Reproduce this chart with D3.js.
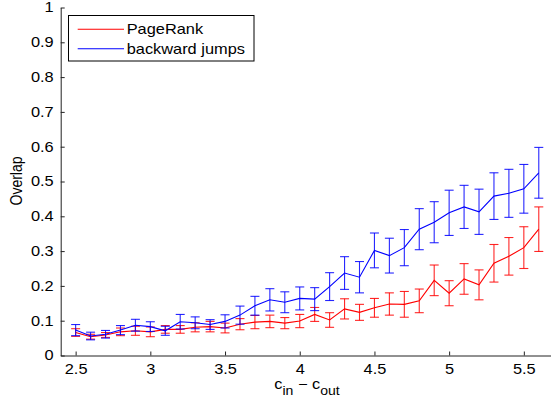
<!DOCTYPE html>
<html>
<head>
<meta charset="utf-8">
<script src="https://cdn.jsdelivr.net/npm/d3@7"></script>
<style>
  html, body { margin: 0; padding: 0; background: #fff; }
  svg { display: block; }
  text { font-family: "Liberation Sans", Arial, sans-serif; }
</style>
</head>
<body>
<script>
const xValues = [2.5,2.6,2.7,2.8,2.9,3.0,3.1,3.2,3.3,3.4,3.5,3.6,3.7,3.8,3.9,4.0,
                 4.1,4.2,4.3,4.4,4.5,4.6,4.7,4.8,4.9,5.0,5.1,5.2,5.3,5.4,5.5,5.6];
const pagerankMean = [0.066,0.054,0.059,0.068,0.071,0.068,0.075,0.075,0.081,0.083,0.079,0.090,0.096,0.098,0.093,0.099,
                      0.118,0.102,0.134,0.124,0.137,0.148,0.147,0.157,0.216,0.179,0.220,0.203,0.265,0.285,0.310,0.363];
const pagerankErr  = [0.011,0.007,0.007,0.011,0.013,0.014,0.011,0.011,0.013,0.015,0.014,0.016,0.019,0.018,0.016,0.019,
                      0.020,0.021,0.029,0.023,0.027,0.032,0.037,0.034,0.044,0.036,0.044,0.043,0.054,0.054,0.060,0.064];
const backwardMean = [0.073,0.056,0.061,0.073,0.087,0.083,0.071,0.097,0.094,0.089,0.098,0.116,0.143,0.160,0.153,0.164,
                      0.162,0.198,0.237,0.225,0.302,0.287,0.310,0.363,0.383,0.410,0.427,0.413,0.458,0.466,0.479,0.525];
const backwardErr  = [0.016,0.011,0.011,0.013,0.017,0.014,0.013,0.021,0.017,0.014,0.019,0.026,0.027,0.032,0.030,0.033,
                      0.033,0.040,0.047,0.045,0.050,0.050,0.052,0.059,0.059,0.065,0.062,0.065,0.067,0.069,0.070,0.073];
const xTicks = [2.5,3,3.5,4,4.5,5,5.5];
const yTicks = [0,0.1,0.2,0.3,0.4,0.5,0.6,0.7,0.8,0.9,1];
const seriesNames = ["PageRank","backward jumps"];
const seriesColors = ["#ff0000","#0000ff"];

const W = 551, H = 406;
const SX = 1.17; // horizontal stretch of the text in the reference
const svg = d3.select("body").append("svg").attr("width", W).attr("height", H);

const x = d3.scaleLinear().domain([2.4, 5.7]).range([60.7, 60.7 + 3.3 * 149.4]);
const y = d3.scaleLinear().domain([0, 1]).range([355.5, 7.5]);

const axisColor = "#222";

// X axis
const gx = svg.append("g").attr("transform", `translate(0,${y(0)})`)
  .call(d3.axisBottom(x).tickValues(xTicks).tickSizeInner(-4).tickSizeOuter(0).tickPadding(9)
        .tickFormat(d => String(d)));
// Y axis
const gy = svg.append("g").attr("transform", `translate(${x(2.4)},0)`)
  .call(d3.axisLeft(y).tickValues(yTicks).tickSizeInner(-4).tickSizeOuter(0).tickPadding(7)
        .tickFormat(d => d3.format("~g")(d)));

[gx, gy].forEach(g => {
  g.select(".domain").attr("stroke", axisColor);
  g.selectAll(".tick line").attr("stroke", axisColor);
  g.selectAll(".tick text").attr("fill", "#000").attr("font-size", 14)
    .attr("font-family", "Liberation Sans, Arial, sans-serif");
});
gy.selectAll(".tick text").each(function() {
  const t = d3.select(this);
  const xx = +t.attr("x");
  t.attr("x", xx / SX).attr("transform", `scale(${SX},1)`);
});
gx.selectAll(".tick text").attr("transform", `scale(${SX},1)`);

// Series
const sets = [
  {mean: pagerankMean, err: pagerankErr, color: seriesColors[0]},
  {mean: backwardMean, err: backwardErr, color: seriesColors[1]}
];
const line = d3.line().x((d, i) => x(xValues[i])).y(d => y(d));
const cap = 4.5;
sets.forEach(s => {
  const g = svg.append("g");
  g.append("path").datum(s.mean).attr("d", line)
    .attr("fill", "none").attr("stroke", s.color).attr("stroke-width", 1.1);
  const eb = g.selectAll("g.eb").data(s.mean.map((m, i) => ({x: xValues[i], lo: m - s.err[i], hi: m + s.err[i]})))
    .join("g").attr("class", "eb").attr("stroke", s.color).attr("stroke-width", 1.1).attr("stroke-opacity", 0.85);
  eb.append("line").attr("x1", d => x(d.x)).attr("x2", d => x(d.x)).attr("y1", d => y(d.lo)).attr("y2", d => y(d.hi));
  eb.append("line").attr("x1", d => x(d.x) - cap).attr("x2", d => x(d.x) + cap).attr("y1", d => y(d.lo)).attr("y2", d => y(d.lo));
  eb.append("line").attr("x1", d => x(d.x) - cap).attr("x2", d => x(d.x) + cap).attr("y1", d => y(d.hi)).attr("y2", d => y(d.hi));
});

// Legend
const lg = svg.append("g");
lg.append("rect").attr("x", 68.5).attr("y", 15.5).attr("width", 185.5).attr("height", 45.5)
  .attr("fill", "#fff").attr("stroke", "#000").attr("stroke-width", 1);
seriesNames.forEach((name, i) => {
  const yy = 29.3 + i * 19.4;
  lg.append("line").attr("x1", 77.7).attr("x2", 124).attr("y1", yy).attr("y2", yy)
    .attr("stroke", seriesColors[i]).attr("stroke-width", 1.1);
  lg.append("text").attr("transform", `translate(126.7,${yy + 5}) scale(${SX},1)`)
    .attr("font-size", 14).attr("fill", "#000").text(name);
});

// Axis labels
svg.append("text").attr("transform", `translate(22,181) scale(${SX},1) rotate(-90)`)
  .attr("text-anchor", "middle").attr("font-size", 14).attr("fill", "#000").text("Overlap");

const xl = svg.append("text").attr("transform", `translate(307,389) scale(${SX},1)`)
  .attr("text-anchor", "middle").attr("font-size", 14).attr("fill", "#000");
xl.append("tspan").text("c");
xl.append("tspan").attr("dy", 6).attr("font-size", 12).text("in");
xl.append("tspan").attr("dy", -6).text(" \u2212 c");
xl.append("tspan").attr("dy", 6).attr("font-size", 12).text("out");
</script>
</body>
</html>
